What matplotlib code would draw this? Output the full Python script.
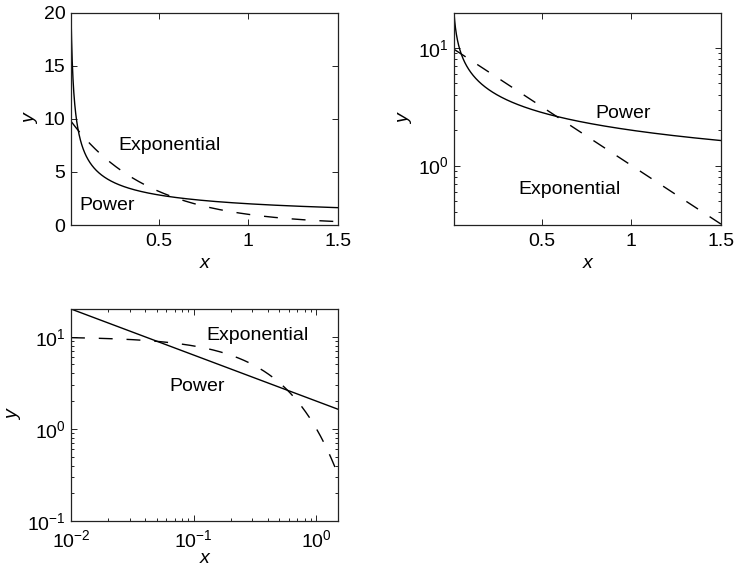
import numpy as np
import matplotlib
matplotlib.use("Agg")
import matplotlib.pyplot as plt
from matplotlib.ticker import LogLocator, NullFormatter

plt.rcParams['font.family'] = ['Liberation Sans', 'DejaVu Sans']
plt.rcParams['mathtext.fontset'] = 'custom'
plt.rcParams['mathtext.rm'] = 'Liberation Sans'
plt.rcParams['mathtext.it'] = 'Liberation Sans:italic'

# Data: the two model curves shown in the chart
x_range = [0.01, 1.5]
power_coef = 2.0      # y = 2 * x^-0.5
power_exp = -0.5
exp_coef = 10.0       # y = 10 * exp(-2.3 x)
exp_rate = 2.3
curve_names = ["Power", "Exponential"]

x = np.linspace(x_range[0], x_range[1], 2000)
y_pow = power_coef * x ** power_exp
y_exp = exp_coef * np.exp(-exp_rate * x)

W, H = 735, 570
fig = plt.figure(figsize=(W / 100, H / 100), dpi=100)


def make_ax(l, t, r, b):
    return fig.add_axes([l / W, 1 - b / H, (r - l) / W, (b - t) / H])


FS = 14
DASH = (0, (10, 10))


def style(ax, xlabelpad=3):
    ax.tick_params(direction='in', which='both', top=True, right=True,
                   labelsize=FS, length=4, width=0.6)
    ax.tick_params(axis='x', pad=6)
    ax.tick_params(axis='y', pad=4)
    ax.tick_params(which='minor', length=2.5)
    for s in ax.spines.values():
        s.set_linewidth(0.9)
        s.set_color('#222222')
    ax.set_xlabel('x', fontsize=FS, style='italic', labelpad=xlabelpad)
    ax.set_ylabel('y', fontsize=FS, style='italic', labelpad=3)


# Top-left: linear
ax1 = make_ax(71, 12.7, 338, 225)
ax1.plot(x, y_pow, color='black', lw=1.0)
ax1.plot(x, y_exp, color='black', lw=1.0, linestyle=DASH)
ax1.set_xlim(x_range)
ax1.set_ylim(0, 20)
ax1.set_xticks([0.5, 1, 1.5])
ax1.set_xticklabels(['0.5', '1', '1.5'])
ax1.set_yticks([0, 5, 10, 15, 20])
ax1.text(0.272, 7.5, curve_names[1], fontsize=FS, va='center', ha='left')
ax1.text(0.055, 1.8, curve_names[0], fontsize=FS, va='center', ha='left')
style(ax1)

# Top-right: semilog y
ax2 = make_ax(454, 12.7, 721, 225)
ax2.plot(x, y_pow, color='black', lw=1.0)
ax2.plot(x, y_exp, color='black', lw=1.0, linestyle=DASH)
ax2.set_yscale('log')
ax2.set_xlim(x_range)
ax2.set_ylim(0.312, 20)
ax2.set_xticks([0.5, 1, 1.5])
ax2.set_xticklabels(['0.5', '1', '1.5'])
ax2.set_yticks([1, 10])
ax2.set_yticklabels([r'$10^{0}$', r'$10^{1}$'])
ax2.yaxis.set_minor_locator(LogLocator(base=10, subs=np.arange(2, 10)))
ax2.yaxis.set_minor_formatter(NullFormatter())
ax2.text(0.80, 2.8, curve_names[0], fontsize=FS, va='center', ha='left')
ax2.text(0.369, 0.63, curve_names[1], fontsize=FS, va='center', ha='left')
style(ax2)

# Bottom-left: log-log
ax3 = make_ax(71, 309, 338, 521)
ax3.plot(x, y_pow, color='black', lw=1.0)
ax3.plot(x, y_exp, color='black', lw=1.0, linestyle=DASH)
ax3.set_xscale('log')
ax3.set_yscale('log')
ax3.set_xlim(x_range)
ax3.set_ylim(0.1, 20)
ax3.set_xticks([0.01, 0.1, 1])
ax3.set_xticklabels([r'$10^{-2}$', r'$10^{-1}$', r'$10^{0}$'])
ax3.set_yticks([0.1, 1, 10])
ax3.set_yticklabels([r'$10^{-1}$', r'$10^{0}$', r'$10^{1}$'])
for axis in (ax3.xaxis, ax3.yaxis):
    axis.set_minor_locator(LogLocator(base=10, subs=np.arange(2, 10)))
    axis.set_minor_formatter(NullFormatter())
ax3.text(0.126, 10.4, curve_names[1], fontsize=FS, va='center', ha='left')
ax3.text(0.063, 2.86, curve_names[0], fontsize=FS, va='center', ha='left')
style(ax3, xlabelpad=-1)

fig.savefig('out.png', dpi=100)
